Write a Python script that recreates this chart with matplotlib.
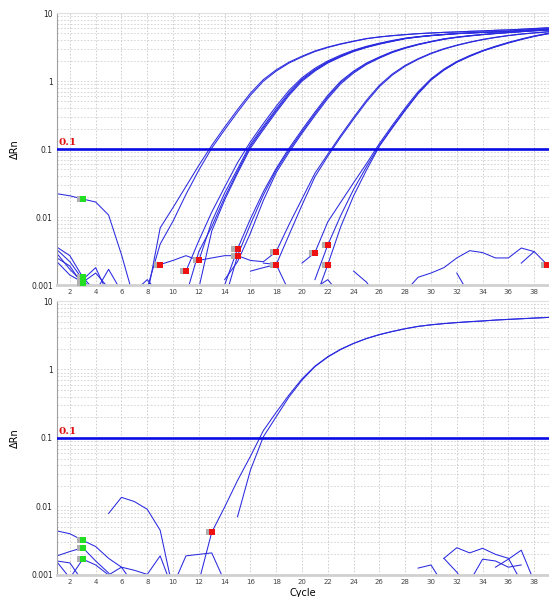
import numpy as np
import matplotlib
matplotlib.use("Agg")
import matplotlib.pyplot as plt
from matplotlib.ticker import FixedLocator, NullFormatter

# ---- data (cycle -> delta Rn) ----
threshold = 0.1
x_ticks = list(range(2, 39, 2))
y_ticks = [0.001, 0.01, 0.1, 1, 10]
y_tick_labels = ["0.001", "0.01", "0.1", "1", "10"]

# top panel: amplification curves, grouped by Ct (start cycle, values)
grpA_start = [8, 8]
grpA = [
    [0.0007, 0.0069, 0.0138, 0.0282, 0.0575, 0.113, 0.210, 0.380, 0.664, 1.05, 1.46, 1.90, 2.32, 2.77, 3.16, 3.53, 3.87,
     4.22, 4.46, 4.66, 4.82, 4.98, 5.09, 5.20, 5.27, 5.38, 5.46, 5.57, 5.65, 5.78, 5.92, 6.04, 6.10],
    [0.0009, 0.0040, 0.0087, 0.0215, 0.049, 0.103, 0.192, 0.349, 0.617, 0.994, 1.40, 1.84, 2.26, 2.71, 3.11, 3.48, 3.82,
     4.18, 4.43, 4.63, 4.80, 4.96, 5.08, 5.19, 5.26, 5.37, 5.43, 5.56, 5.63, 5.76, 5.90, 6.03, 6.08],
]
grpB_start = [11, 12, 11, 12]
grpB = [
    [0.0016, 0.0045, 0.0118, 0.0275, 0.063, 0.128, 0.237, 0.427, 0.731, 1.12, 1.54, 1.98, 2.41, 2.84, 3.24, 3.60, 3.95,
     4.27, 4.50, 4.69, 4.85, 5.00, 5.12, 5.21, 5.30, 5.40, 5.55, 5.70, 5.85, 5.95],
    [0.0023, 0.0085, 0.0225, 0.051, 0.117, 0.216, 0.391, 0.680, 1.07, 1.48, 1.92, 2.34, 2.79, 3.18, 3.55, 3.89, 4.23,
     4.47, 4.67, 4.83, 4.98, 5.10, 5.20, 5.28, 5.38, 5.52, 5.67, 5.82, 5.92],
    [0.0007, 0.0031, 0.0072, 0.0195, 0.047, 0.110, 0.204, 0.369, 0.648, 1.03, 1.44, 1.88, 2.30, 2.75, 3.15, 3.52, 3.86,
     4.21, 4.45, 4.65, 4.81, 4.97, 5.08, 5.18, 5.26, 5.36, 5.50, 5.65, 5.80, 5.90],
    [0.0009, 0.0062, 0.0178, 0.044, 0.103, 0.192, 0.349, 0.617, 0.994, 1.40, 1.84, 2.26, 2.71, 3.11, 3.48, 3.82, 4.18,
     4.43, 4.63, 4.80, 4.96, 5.07, 5.17, 5.25, 5.35, 5.48, 5.63, 5.78, 5.88],
]
grpC_start = [14, 14, 14]
grpC = [
    [0.0010, 0.0034, 0.0094, 0.0235, 0.052, 0.103, 0.192, 0.349, 0.617, 0.994, 1.40, 1.84, 2.26, 2.71, 3.11, 3.48, 3.82,
     4.18, 4.43, 4.65, 4.85, 5.02, 5.18, 5.34, 5.50, 5.62, 5.72],
    [0.0006, 0.0027, 0.0078, 0.021, 0.049, 0.0966, 0.180, 0.329, 0.585, 0.954, 1.36, 1.80, 2.22, 2.67, 3.07, 3.45, 3.79,
     4.14, 4.40, 4.62, 4.82, 5.00, 5.16, 5.32, 5.48, 5.60, 5.70],
    [0.0012, 0.0022, 0.0058, 0.0175, 0.045, 0.0902, 0.170, 0.310, 0.553, 0.909, 1.31, 1.75, 2.17, 2.62, 3.03, 3.41, 3.76,
     4.10, 4.37, 4.59, 4.79, 4.97, 5.14, 5.30, 5.46, 5.58, 5.68],
]
grpD_start = [9, 16]
grpD = [
    [0.0020, 0.0023, 0.0027, 0.0023, 0.0025, 0.0027, 0.0027, 0.0023, 0.0022, 0.0031, 0.0078, 0.0185, 0.044, 0.0841,
     0.159, 0.292, 0.522, 0.866, 1.27, 1.70, 2.13, 2.57, 2.99, 3.37, 3.74, 4.09, 4.40, 4.68, 4.92, 5.12, 5.30, 5.42],
    [0.0016, 0.0018, 0.0020, 0.0055, 0.0150, 0.039, 0.0785, 0.150, 0.275, 0.493, 0.825, 1.22, 1.65, 2.08, 2.52, 2.94,
     3.33, 3.70, 4.05, 4.36, 4.64, 4.88, 5.08, 5.26, 5.38],
]
grpE_start = [20, 21, 21]
grpE = [
    [0.0021, 0.0030, 0.0085, 0.0165, 0.032, 0.061, 0.1205, 0.223, 0.403, 0.697, 1.08, 1.50, 1.94, 2.37, 2.81, 3.25,
     3.70, 4.15, 4.60, 5.00, 5.25],
    [0.0012, 0.0039, 0.0105, 0.0255, 0.055, 0.113, 0.210, 0.380, 0.664, 1.05, 1.46, 1.90, 2.32, 2.77, 3.20, 3.65,
     4.10, 4.55, 4.95, 5.20],
    [0.0006, 0.0020, 0.0072, 0.0205, 0.049, 0.110, 0.204, 0.369, 0.648, 1.03, 1.44, 1.88, 2.30, 2.75, 3.17, 3.62,
     4.07, 4.52, 4.92, 5.17],
]
# top panel: baseline noise traces
noise_top_start = [1, 1, 1, 1, 1, 1, 4, 7, 17, 21, 24, 28, 37, 32]
noise_top = [
    [0.022, 0.0205, 0.0184, 0.0166, 0.0107, 0.0028, 0.0006],
    [0.0036, 0.0027, 0.0013, 0.0008],
    [0.0033, 0.0022, 0.0012, 0.0018, 0.0007],
    [0.0029, 0.0017, 0.0011, 0.0009],
    [0.0025, 0.0019, 0.0010, 0.0007],
    [0.0022, 0.0014, 0.0011, 0.0015, 0.0009],
    [0.0008, 0.0017, 0.0008],
    [0.0008, 0.0012, 0.0007],
    [0.0021, 0.0020, 0.0008],
    [0.0009, 0.0012, 0.0007],
    [0.0016, 0.0011, 0.0006],
    [0.0008, 0.0013, 0.0015, 0.0018, 0.0025, 0.0032, 0.0030, 0.0025, 0.0025, 0.0035, 0.0031, 0.0020],
    [0.0021, 0.0031],
    [0.0015, 0.0007],
]
top_green_x = [3, 3, 3, 3, 3]
top_green_y = [0.0184, 0.0013, 0.0012, 0.0011, 0.0010]
top_red_x = [9, 11, 12, 15, 15, 18, 18, 21, 22, 22, 39]
top_red_y = [0.0020, 0.0016, 0.0023, 0.0034, 0.0027, 0.0031, 0.0020, 0.0030, 0.0039, 0.0020, 0.0020]

# bottom panel
bot_start = [12, 15]
bot_curves = [
    [0.0008, 0.0042, 0.0098, 0.024, 0.054, 0.128, 0.237, 0.427, 0.731, 1.12, 1.54, 1.98, 2.41, 2.84, 3.24, 3.60, 3.95,
     4.27, 4.50, 4.69, 4.85, 5.00, 5.12, 5.28, 5.40, 5.52, 5.64, 5.76, 5.85],
    [0.0071, 0.034, 0.104, 0.205, 0.40, 0.70, 1.10, 1.52, 1.96, 2.40, 2.83, 3.22, 3.58, 3.93, 4.25, 4.48, 4.67, 4.83,
     4.98, 5.10, 5.26, 5.38, 5.50, 5.62, 5.74, 5.83],
]
noise_bot_start = [1, 1, 1, 1, 5, 10, 29, 31, 31, 33, 35]
noise_bot = [
    [0.0044, 0.0040, 0.0032, 0.0026, 0.00175, 0.0013, 0.00117, 0.00102, 0.0019, 0.0006],
    [0.0019, 0.0022, 0.0025, 0.0016, 0.00107, 0.0006],
    [0.00155, 0.0009, 0.0017, 0.0014, 0.0010, 0.0013, 0.0007],
    [0.0016, 0.0015, 0.0008],
    [0.0079, 0.0136, 0.0118, 0.0091, 0.0045, 0.0006],
    [0.0007, 0.0019, 0.0020, 0.0021, 0.0008],
    [0.00126, 0.0014, 0.0007],
    [0.00175, 0.0025, 0.0021, 0.00245, 0.0020, 0.00175, 0.0008],
    [0.00175, 0.0011, 0.0006],
    [0.0008, 0.0017, 0.0016, 0.0013, 0.0014],
    [0.0013, 0.0017, 0.0023, 0.0008],
]
bot_green_x = [3, 3, 3]
bot_green_y = [0.0032, 0.0025, 0.0017]
bot_red_x = [13]
bot_red_y = [0.0042]

line_col = "#2a2ae0"


def draw_panel(ax, starts, series, green_x, green_y, red_x, red_y):
    for s, vals in zip(starts, series):
        cyc = np.arange(s, s + len(vals))
        ax.plot(cyc, vals, color=line_col, lw=0.75, solid_joinstyle="round")
    ax.axhline(threshold, color="#0a0ae6", lw=1.9, zorder=4)
    ax.text(1.15, threshold * 1.08, "0.1", color="#e01010", fontsize=7.5, fontweight="bold",
            family="DejaVu Serif", va="bottom", ha="left", zorder=5)
    # baseline markers with grey shadow
    ax.scatter(np.array(green_x) - 0.25, green_y, marker="s", s=14, color="#b0b0b0", zorder=5, lw=0)
    ax.scatter(green_x, green_y, marker="s", s=14, color="#22dd22", zorder=6, lw=0)
    ax.scatter(np.array(red_x) - 0.25, red_y, marker="s", s=14, color="#b0b0b0", zorder=5, lw=0)
    ax.scatter(red_x, red_y, marker="s", s=14, color="#ee1111", zorder=6, lw=0)

    ax.set_yscale("log")
    ax.set_ylim(0.001, 10)
    ax.set_xlim(1, 39.15)
    ax.xaxis.set_major_locator(FixedLocator(x_ticks))
    ax.set_xticklabels([str(t) for t in x_ticks], fontsize=5, color="#444444")
    ax.yaxis.set_major_locator(FixedLocator(y_ticks))
    ax.set_yticklabels(y_tick_labels, fontsize=5.5, color="#222222")
    ax.yaxis.set_minor_formatter(NullFormatter())
    ax.tick_params(axis="both", which="both", length=0, pad=3)
    ax.grid(True, which="major", axis="x", color="#c8c8c8", ls=(0, (2, 2)), lw=0.6)
    ax.grid(True, which="both", axis="y", color="#d0d0d0", ls=(0, (2, 2)), lw=0.6)
    ax.set_axisbelow(True)
    ax.spines["right"].set_visible(False)
    ax.spines["top"].set_color("#e0e0e0")
    ax.spines["left"].set_color("#a0a0a0")
    ax.spines["bottom"].set_color("#d0d0d0")
    ax.spines["bottom"].set_linewidth(2)
    ax.set_ylabel("ΔRn", fontsize=7, labelpad=8)


fig = plt.figure(figsize=(5.49, 5.97), dpi=100)
ax1 = fig.add_axes([0.1038, 0.5226, 0.8962, 0.4556])
ax2 = fig.add_axes([0.1038, 0.0369, 0.8962, 0.4589])

top_starts = grpA_start + grpB_start + grpC_start + grpD_start + grpE_start + noise_top_start
top_series = grpA + grpB + grpC + grpD + grpE + noise_top
draw_panel(ax1, top_starts, top_series, top_green_x, top_green_y, top_red_x, top_red_y)
draw_panel(ax2, bot_start + noise_bot_start, bot_curves + noise_bot, bot_green_x, bot_green_y, bot_red_x, bot_red_y)
ax2.set_xlabel("Cycle", fontsize=7, labelpad=2)

fig.savefig("out.png", dpi=100)
